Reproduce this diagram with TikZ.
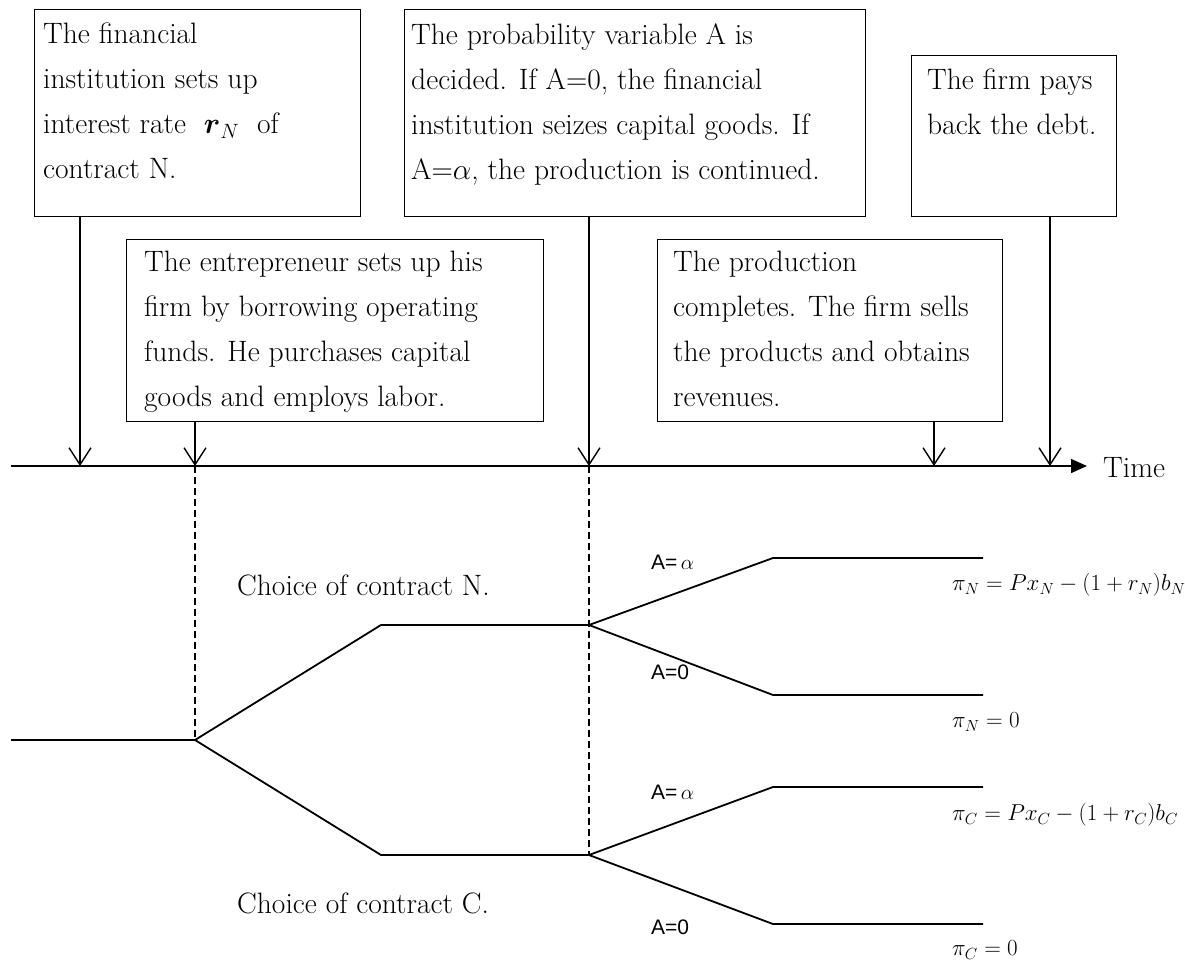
\RequirePackage{fix-cm}
\documentclass[tikz,border=0pt]{standalone}
\usepackage{amsmath}
\usepackage{fontspec}
\newfontfamily\gothfont{Liberation Sans}
\usetikzlibrary{arrows.meta}

\begin{document}
\begin{tikzpicture}[x=1pt, y=-1pt,
  box/.style={draw, line width=1.4pt, anchor=north west, inner sep=0pt},
  boxtext/.style={anchor=north west, align=left, inner sep=0pt, font=\fontsize{29.5}{45}\selectfont},
  serif/.style={anchor=west, inner sep=0pt, font=\fontsize{29.5}{35}\selectfont},
  branch/.style={anchor=west, inner sep=0pt, font=\gothfont\fontsize{21}{25}\selectfont},
  payoff/.style={anchor=west, inner sep=0pt, font=\fontsize{23}{28}\selectfont},
  event/.style={line width=1.4pt, -{Straight Barb[length=17pt,width=22pt,line width=1.4pt]}},
  timeline/.style={line width=1.4pt, -{Triangle[length=16pt,width=14pt]}},
  tree/.style={line width=1.8pt},
  guide/.style={line width=1.1pt, dash pattern=on 7pt off 4pt}
]
\useasboundingbox (0,0) rectangle (1185,966);

% events above the time line
\node[box, minimum width=326pt, minimum height=207pt] (inst) at (34,9) {};
\node[boxtext] (instText) at ([shift={(9,14)}]inst.north west)
  {The financial\\institution sets up\\interest rate \ $\boldsymbol{r}_{N}$ \ of\\contract N.};
\node[box, minimum width=461pt, minimum height=207pt] (shock) at (404,9) {};
\node[boxtext] (shockText) at ([shift={(7,14)}]shock.north west)
  {The probability variable A is\\decided. If A=0, the financial\\institution seizes capital goods. If\\A=$\alpha$, the production is continued.};
\node[box, minimum width=205pt, minimum height=161pt] (repay) at (911,55) {};
\node[boxtext] (repayText) at ([shift={(16,14)}]repay.north west)
  {The firm pays\\back the debt.};
\node[box, minimum width=417pt, minimum height=182pt] (setup) at (126,239) {};
\node[boxtext] (setupText) at ([shift={(18,12)}]setup.north west)
  {The entrepreneur sets up his\\firm by borrowing operating\\funds. He purchases capital\\goods and employs labor.};
\node[box, minimum width=345pt, minimum height=182pt] (sales) at (657,239) {};
\node[boxtext] (salesText) at ([shift={(16,12)}]sales.north west)
  {The production\\completes. The firm sells\\the products and obtains\\revenues.};

% time line
\coordinate (tStart) at (11,466);
\coordinate (tEnd) at (1087,466);
\coordinate (t1) at (80,466);
\coordinate (t2) at (195,466);
\coordinate (t3) at (589,466);
\coordinate (t4) at (934,466);
\coordinate (t5) at (1050,466);
\draw[timeline] (tStart) -- (tEnd);
\node[serif] (timeLabel) at (1103,468) {Time};
\draw[event] (inst.south -| t1) -- (t1);
\draw[event] (setup.south -| t2) -- (t2);
\draw[event] (shock.south -| t3) -- (t3);
\draw[event] (sales.south -| t4) -- (t4);
\draw[event] (repay.south -| t5) -- (t5);

% game tree
\coordinate (start) at (11,740);
\coordinate (root) at (195,740);
\coordinate (nFork) at (381,625);
\coordinate (nNode) at (589,625);
\coordinate (cFork) at (381,855);
\coordinate (cNode) at (589,855);
\coordinate (nHi) at (773,558);
\coordinate (nHiEnd) at (983,558);
\coordinate (nLo) at (773,695);
\coordinate (nLoEnd) at (983,695);
\coordinate (cHi) at (773,787);
\coordinate (cHiEnd) at (983,787);
\coordinate (cLo) at (773,924);
\coordinate (cLoEnd) at (983,924);
\draw[guide] (t2) -- (root);
\draw[guide] (t3) -- (cNode);
\draw[tree] (start) -- (root) -- (nFork) -- (nNode);
\draw[tree] (root) -- (cFork) -- (cNode);
\draw[tree] (nNode) -- (nHi) -- (nHiEnd);
\draw[tree] (nNode) -- (nLo) -- (nLoEnd);
\draw[tree] (cNode) -- (cHi) -- (cHiEnd);
\draw[tree] (cNode) -- (cLo) -- (cLoEnd);

\node[serif] (choiceN) at (237,585) {Choice of contract N.};
\node[serif] (choiceC) at (237,903) {Choice of contract C.};
\node[branch] (nAlpha) at (651,562) {A=\,$\alpha$};
\node[branch] (nZero) at (651,672) {A=0};
\node[branch] (cAlpha) at (651,792) {A=\,$\alpha$};
\node[branch] (cZero) at (651,927) {A=0};
\node[payoff] (nPay) at (952,585) {$\pi_N = Px_N - (1+r_N)b_N$};
\node[payoff] (nNil) at (952,722) {$\pi_N = 0$};
\node[payoff] (cPay) at (952,815) {$\pi_C = Px_C - (1+r_C)b_C$};
\node[payoff] (cNil) at (952,950) {$\pi_C = 0$};
\end{tikzpicture}
\end{document}
